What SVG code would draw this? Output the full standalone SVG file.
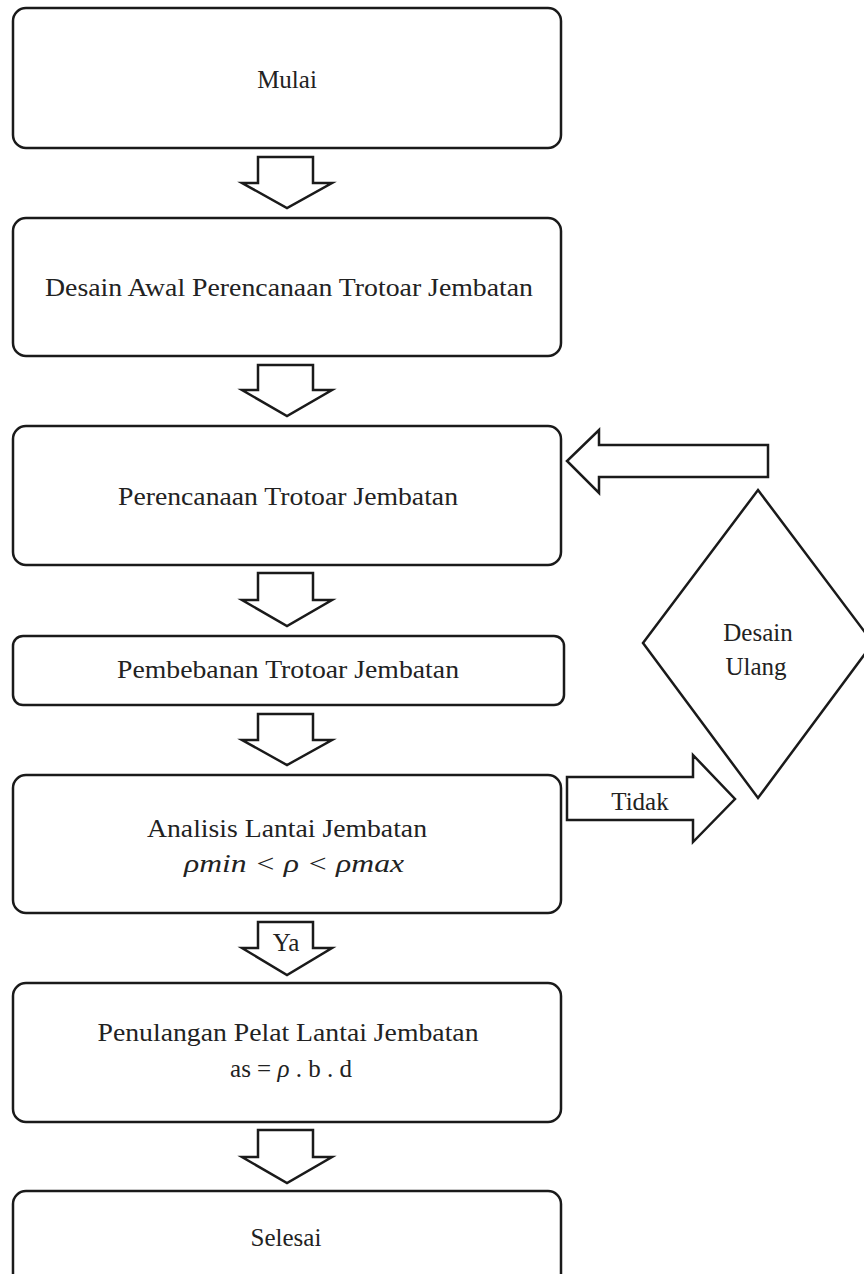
<svg xmlns="http://www.w3.org/2000/svg" width="864" height="1274" viewBox="0 0 864 1274">
<style>
.box{fill:#fff;stroke:#1a1a1a;stroke-width:2.5}
.arr{fill:#fff;stroke:#1a1a1a;stroke-width:2.5;stroke-linejoin:miter}
.t{font-family:"Liberation Serif","Times New Roman",serif;font-size:25px;fill:#222;text-anchor:middle}
.i{font-style:italic}
</style>
<rect width="864" height="1274" fill="#fff"/>
<g id="n1"><rect class="box" x="13" y="8" width="548" height="140" rx="13"/><text class="t" x="287" y="88">Mulai</text></g>
<g id="n2"><rect class="box" x="13" y="218" width="548" height="138" rx="13"/><text class="t" x="289" y="296" textLength="488" lengthAdjust="spacingAndGlyphs">Desain Awal Perencanaan Trotoar Jembatan</text></g>
<g id="n3"><rect class="box" x="13" y="426" width="548" height="139" rx="13"/><text class="t" x="288" y="505" textLength="340" lengthAdjust="spacingAndGlyphs">Perencanaan Trotoar Jembatan</text></g>
<g id="n4"><rect class="box" x="13" y="636" width="551" height="69" rx="10"/><text class="t" x="288" y="678" textLength="342" lengthAdjust="spacingAndGlyphs">Pembebanan Trotoar Jembatan</text></g>
<g id="n5"><rect class="box" x="13" y="775" width="548" height="138" rx="13"/><text class="t" x="287" y="837" textLength="280" lengthAdjust="spacingAndGlyphs">Analisis Lantai Jembatan</text><text class="t i" x="294" y="872" textLength="220" lengthAdjust="spacingAndGlyphs">ρmin &lt; ρ &lt; ρmax</text></g>
<g id="n6"><rect class="box" x="13" y="983" width="548" height="139" rx="13"/><text class="t" x="288" y="1041" textLength="381" lengthAdjust="spacingAndGlyphs">Penulangan Pelat Lantai Jembatan</text><text class="t" x="291" y="1077">as = <tspan class="i">ρ</tspan> . b . d</text></g>
<g id="n7"><rect class="box" x="13" y="1191" width="548" height="140" rx="13"/><text class="t" x="286" y="1246">Selesai</text></g>
<g id="n8"><polygon class="box" points="758,490 873,643 758,798 643,643"/><text class="t" x="758" y="641">Desain</text><text class="t" x="756" y="675">Ulang</text></g>
<g id="connectors">
<polygon class="arr" points="258,157 313,157 313,183 332,183 287,208 242,183 258,183"/>
<polygon class="arr" points="258,365 313,365 313,390 332,390 287,416 242,390 258,390"/>
<polygon class="arr" points="258,573 313,573 313,600 332,600 287,626 242,600 258,600"/>
<polygon class="arr" points="258,714 313,714 313,740 332,740 287,765 242,740 258,740"/>
<polygon class="arr" points="258,922 313,922 313,948 332,948 287,975 242,948 258,948"/>
<polygon class="arr" points="258,1130 313,1130 313,1157 332,1157 287,1183 242,1157 258,1157"/>
<polygon class="arr" points="768,445 599,445 599,430 567,461 599,493 599,477 768,477"/>
<polygon class="arr" points="567,777 693,777 693,755 735,799 693,842 693,820 567,820"/>
<text class="t" x="640" y="810">Tidak</text>
<text class="t" x="286" y="951">Ya</text>
</g>
</svg>
